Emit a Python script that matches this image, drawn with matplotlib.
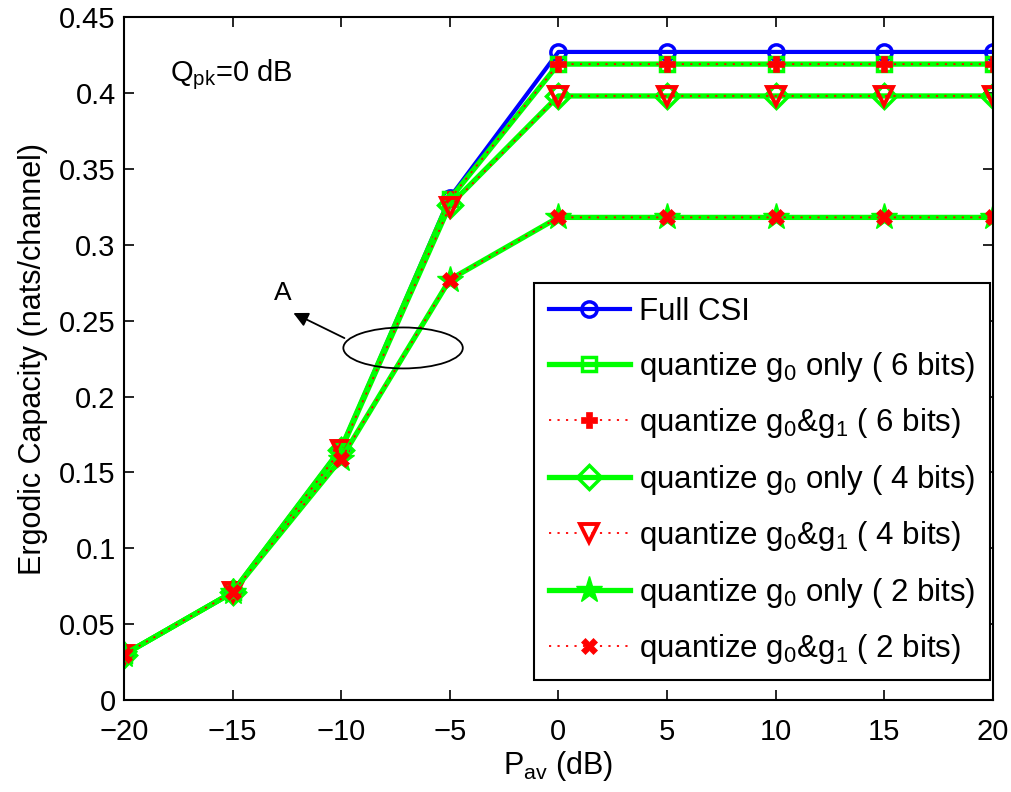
import matplotlib
matplotlib.use("Agg")
import matplotlib.pyplot as plt
from matplotlib.patches import Ellipse

plt.rcParams['font.family'] = ['Liberation Sans', 'DejaVu Sans']
plt.rcParams['mathtext.default'] = 'regular'

p_av = [-20, -15, -10, -5, 0, 5, 10, 15, 20]

full_csi = [0.030, 0.071, 0.166, 0.331, 0.427, 0.427, 0.427, 0.427, 0.427]
g0_6 = [0.030, 0.071, 0.166, 0.330, 0.419, 0.419, 0.419, 0.419, 0.419]
g01_6 = [0.030, 0.071, 0.166, 0.330, 0.419, 0.419, 0.419, 0.419, 0.419]
g0_4 = [0.030, 0.071, 0.165, 0.326, 0.398, 0.398, 0.398, 0.398, 0.398]
g01_4 = [0.030, 0.071, 0.165, 0.325, 0.398, 0.398, 0.398, 0.398, 0.398]
g0_2 = [0.030, 0.071, 0.159, 0.277, 0.318, 0.318, 0.318, 0.318, 0.318]
g01_2 = [0.030, 0.071, 0.159, 0.277, 0.318, 0.318, 0.318, 0.318, 0.318]

labels = [
    'Full CSI',
    'quantize $g_0$ only ( 6 bits)',
    'quantize $g_0$&$g_1$ ( 6 bits)',
    'quantize $g_0$ only ( 4 bits)',
    'quantize $g_0$&$g_1$ ( 4 bits)',
    'quantize $g_0$ only ( 2 bits)',
    'quantize $g_0$&$g_1$ ( 2 bits)',
]

x_ticks = [-20, -15, -10, -5, 0, 5, 10, 15, 20]
x_tick_labels = ['\u221220', '\u221215', '\u221210', '\u22125', '0', '5', '10', '15', '20']
y_ticks = [0, 0.05, 0.1, 0.15, 0.2, 0.25, 0.3, 0.35, 0.4, 0.45]
y_tick_labels = ['0', '0.05', '0.1', '0.15', '0.2', '0.25', '0.3', '0.35', '0.4', '0.45']

fig = plt.figure(figsize=(10.12, 7.92), dpi=100)
ax = fig.add_axes([0.1225, 0.116, 0.8585, 0.8625])

green = '#00ff00'
red = '#ff0000'
blue = '#0000ff'
dots = (0, (1.2, 3.5))

ax.plot(p_av, full_csi, color=blue, lw=3, marker='o', ms=11, mfc='none',
        mec=blue, mew=2.5, label=labels[0])
ax.plot(p_av, g0_6, color=green, lw=3.8, marker='s', ms=10, mfc='none',
        mec=green, mew=2.5, label=labels[1])
ax.plot(p_av, g01_6, color=red, lw=1.3, ls=dots, marker='P', ms=11,
        mfc=red, mec=red, mew=0.5, label=labels[2])
ax.plot(p_av, g0_4, color=green, lw=3.8, marker='D', ms=12, mfc='none',
        mec=green, mew=2.5, label=labels[3])
ax.plot(p_av, g01_4, color=red, lw=1.3, ls=dots, marker='v', ms=13,
        mfc='none', mec=red, mew=2.8, label=labels[4])
ax.plot(p_av, g0_2, color=green, lw=3.8, marker='*', ms=20, mfc=green,
        mec=green, mew=1, label=labels[5])
ax.plot(p_av, g01_2, color=red, lw=1.3, ls=dots, marker='X', ms=12,
        mfc=red, mec=red, mew=0.5, label=labels[6])

ax.set_xlim(-20, 20)
ax.set_ylim(0, 0.45)
ax.set_xticks(x_ticks)
ax.set_xticklabels(x_tick_labels)
ax.set_yticks(y_ticks)
ax.set_yticklabels(y_tick_labels)
ax.tick_params(direction='in', length=7, width=1.2, labelsize=21,
               top=True, right=True)
ax.tick_params(axis='x', pad=13)
ax.tick_params(axis='y', pad=6)
for s in ax.spines.values():
    s.set_linewidth(1.5)

ax.set_xlabel('$P_{av}$ (dB)', fontsize=22, labelpad=2)
ax.set_ylabel('Ergodic Capacity (nats/channel)', fontsize=22, labelpad=8)

ax.text(-17.9, 0.412, '$Q_{pk}$=0 dB', fontsize=21, va='center', ha='left')

ax.add_patch(Ellipse((-7.15, 0.232), 5.5, 0.027, fill=False, ec='black', lw=1.3, zorder=5))
ax.annotate('', xy=(-12.2, 0.255), xytext=(-9.85, 0.2385),
            arrowprops=dict(arrowstyle='-|>', color='black', lw=1.3,
                            mutation_scale=22, shrinkA=0, shrinkB=0), zorder=5)
ax.text(-12.7, 0.268, 'A', fontsize=19, ha='center', va='center')

leg = ax.legend(loc='lower right', bbox_to_anchor=(0.9965, 0.029), fontsize=22.5,
                fancybox=False, framealpha=1, edgecolor='black',
                handlelength=2.6, labelspacing=0.72, borderpad=0.45,
                handletextpad=0.3, borderaxespad=0)
leg.get_frame().set_linewidth(1.5)

fig.savefig('out.png', dpi=100)
